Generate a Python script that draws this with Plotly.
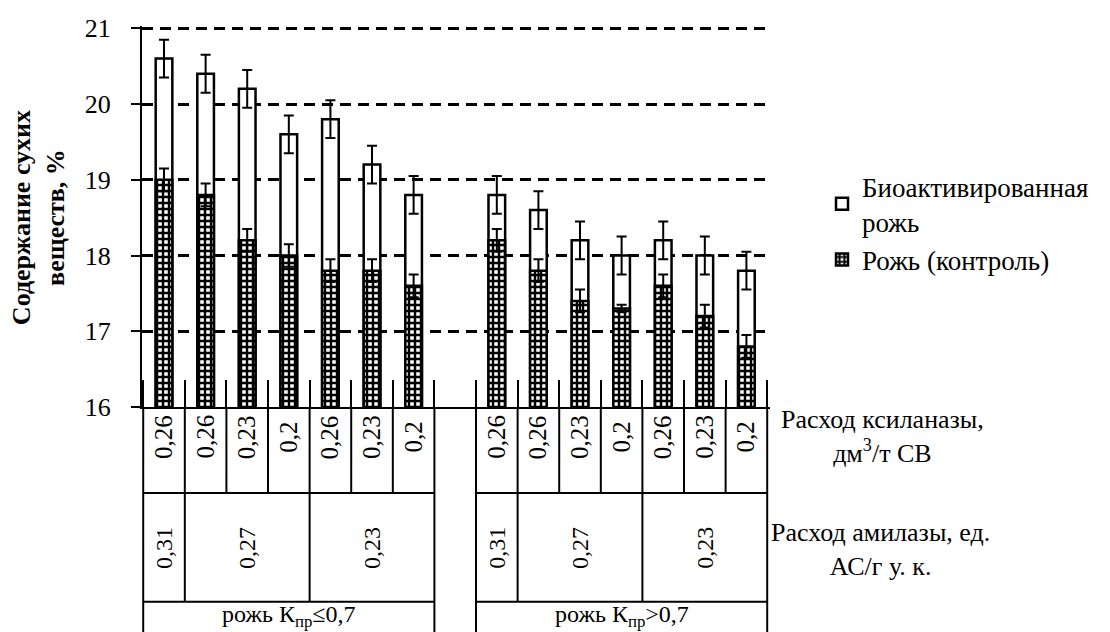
import plotly.graph_objects as go

# ---------------- data ----------------
xylanase = ["0,26", "0,26", "0,23", "0,2", "0,26", "0,23", "0,2"]
amylase_labels = ["0,31", "0,27", "0,23"]
amylase_spans = [1, 3, 3]
group_labels = ["рожь К<sub>пр</sub>≤0,7", "рожь К<sub>пр</sub>>0,7"]

bio = [20.6, 20.4, 20.2, 19.6, 19.8, 19.2, 18.8,
       18.8, 18.6, 18.2, 18.0, 18.2, 18.0, 17.8]
bio_err = [0.25, 0.25, 0.25, 0.25, 0.25, 0.25, 0.25,
           0.25, 0.25, 0.25, 0.25, 0.25, 0.25, 0.25]
ctrl = [19.0, 18.8, 18.2, 18.0, 17.8, 17.8, 17.6,
        18.2, 17.8, 17.4, 17.3, 17.6, 17.2, 16.8]
ctrl_err = [0.15, 0.15, 0.15, 0.15, 0.15, 0.15, 0.15,
            0.15, 0.15, 0.15, 0.05, 0.15, 0.15, 0.15]

name_bio = "Биоактивированная<br>рожь"
name_ctrl = "Рожь (контроль)"
y_title = "<b>Содержание сухих<br>веществ, %</b>"
xyl_title = "Расход ксиланазы,<br>дм<sup>3</sup>/т СВ"
amy_title = "Расход амилазы, ед.<br>АС/г у. к."

# ---------------- geometry ----------------
W, H = 1110, 632
OFF = 8  # page body margin of the browser
YMIN, YMAX = 16, 21.03
UNIT = 75.8  # px per y unit
PL, PR, PB = 142, 770, 407  # plot area in screen pixels
PT = PB - (YMAX - YMIN) * UNIT
ML, MT = PL - OFF, PT - OFF
MR, MB = W - (PR - OFF), H - (PB - OFF)
PH = PB - PT
PW = PR - PL
FONT = "Liberation Serif"

n = len(xylanase)
xpos = []
for g in range(len(group_labels)):
    xpos += [g * (n + 1) + i for i in range(n)]


def py(p):
    """screen pixel row -> paper y"""
    return (PB - p) / PH


def px(p):
    """screen pixel column -> paper x"""
    return (p - PL) / PW


fig = go.Figure()
fig.add_trace(go.Bar(
    x=xpos, y=bio, name=name_bio, width=0.4,
    marker=dict(color="white", line=dict(color="black", width=2.5)),
    error_y=dict(type="data", array=bio_err, visible=True,
                 color="black", thickness=2, width=5),
))
fig.add_trace(go.Bar(
    x=xpos, y=ctrl, name=name_ctrl, width=0.4,
    marker=dict(color="white", line=dict(color="black", width=2.5),
                pattern=dict(shape="+", fgcolor="black", bgcolor="white",
                             size=6, solidity=0.65, fillmode="replace")),
    error_y=dict(type="data", array=ctrl_err, visible=True,
                 color="black", thickness=2, width=5),
))

# boundaries for x ticks
bounds = []
for g in range(len(group_labels)):
    o = g * (n + 1)
    bounds += [o + i - 0.5 for i in range(n + 1)]

shapes = []
annotations = []
rows = [407, 493, 602, 650]


def vline(x, p0, p1):
    shapes.append(dict(type="line", xref="x", yref="paper", x0=x, x1=x,
                       y0=py(p0), y1=py(p1), line=dict(color="black", width=2)))


def hline(x0, x1, p):
    shapes.append(dict(type="line", xref="x", yref="paper", x0=x0, x1=x1,
                       y0=py(p), y1=py(p), line=dict(color="black", width=2)))


def note(x, y, text, size=24, angle=0, xref="x"):
    annotations.append(dict(x=x, y=y, xref=xref, yref="paper", text=text,
                            textangle=angle, showarrow=False,
                            xanchor="center", yanchor="middle",
                            font=dict(family=FONT, size=size, color="black")))


for g, glabel in enumerate(group_labels):
    o = g * (n + 1)
    left, right = o - 0.5, o + n - 0.5
    vline(left, rows[0], rows[3])
    vline(right, rows[0], rows[3])
    for i in range(n - 1):
        vline(o + i + 0.5, rows[0], rows[1])
    hline(left, right, rows[1])
    hline(left, right, rows[2])
    start = 0
    for lab, span in zip(amylase_labels, amylase_spans):
        if start > 0:
            vline(left + start, rows[1], rows[2])
        note(left + start + span / 2, py(548), lab, size=24, angle=-90)
        start += span
    for i, lab in enumerate(xylanase):
        note(o + i, py(437), lab, size=25, angle=-90)
    note(o + (n - 1) / 2, py(616), glabel, size=24)

note(px(882), py(437), xyl_title, size=26, xref="paper")
note(px(881), py(550), amy_title, size=26, xref="paper")
note(px(38), py(218), y_title, size=26, angle=-90, xref="paper")

fig.update_layout(
    width=W, height=H,
    margin=dict(l=ML, r=MR, t=MT, b=MB, pad=0, autoexpand=False),
    paper_bgcolor="white", plot_bgcolor="white",
    barmode="overlay",
    showlegend=True,
    legend=dict(x=px(822), y=py(162), xanchor="left", yanchor="top",
                font=dict(family=FONT, size=27, color="black"),
                bgcolor="rgba(0,0,0,0)", tracegroupgap=0),
    xaxis=dict(range=[-0.529, 14.567], showgrid=False, zeroline=False,
               showline=True, linecolor="black", linewidth=2,
               tickmode="array", tickvals=bounds, ticks="inside",
               ticklen=27, tickwidth=1.5, tickcolor="black",
               showticklabels=False),
    yaxis=dict(range=[YMIN, YMAX], dtick=1, tick0=16, showgrid=True,
               gridcolor="black", gridwidth=2.5, griddash="11px,7px",
               zeroline=False, showline=True, linecolor="black", linewidth=2,
               ticks="outside", ticklen=9, tickwidth=2, tickcolor="black",
               ticklabelstandoff=15,
               tickfont=dict(family=FONT, size=26, color="black")),
    shapes=shapes, annotations=annotations,
)

fig.write_html("out.html")
